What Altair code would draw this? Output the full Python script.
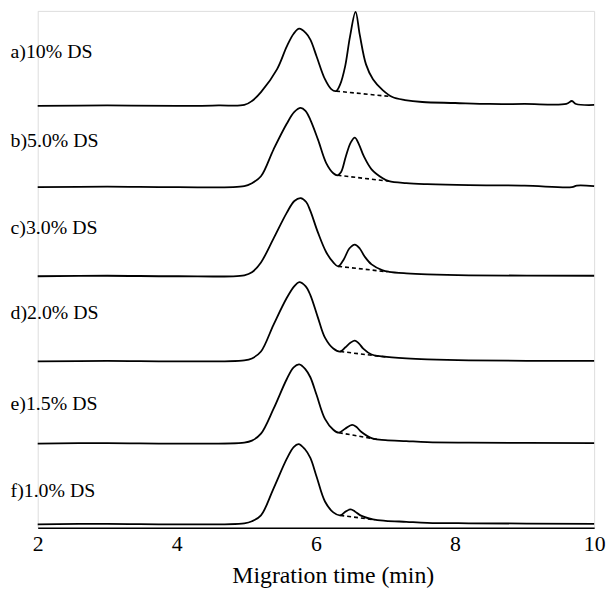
import altair as alt
import pandas as pd

# Trace labels and vertical offsets (signal units) of each electropherogram
trace_names = ["a)10% DS", "b)5.0% DS", "c)3.0% DS", "d)2.0% DS", "e)1.5% DS", "f)1.0% DS"]
trace_offset = [426, 344, 254, 168, 85, 3.5]
label_level = [480, 391, 303, 217, 125, 37]

# Migration time (min) and signal of each trace
a_t = [2.0, 3.0, 4.0, 4.6, 4.97, 5.08, 5.21, 5.44, 5.58, 5.68, 5.76, 5.85, 5.92, 6.01, 6.13, 6.22, 6.29, 6.35, 6.42, 6.49, 6.57, 6.63, 6.72, 6.82, 6.96, 7.10, 7.28, 7.53, 8.0, 8.5, 9.0, 9.6, 9.68, 9.74, 10.0]
a_h = [0, 0.5, 0, 0.5, 1, 5, 14, 37, 60, 73, 78, 74, 67, 50, 27, 17, 15, 22, 40, 70, 95, 72, 42, 27, 16, 9, 6, 4, 3, 2, 2, 2, 5, 2, 1]

b_t = [2.0, 3.0, 4.0, 4.97, 5.08, 5.21, 5.39, 5.58, 5.69, 5.78, 5.85, 5.92, 6.03, 6.15, 6.25, 6.31, 6.36, 6.43, 6.50, 6.56, 6.62, 6.69, 6.80, 6.96, 7.05, 7.3, 7.6, 8.2, 9.0, 9.68, 9.75, 10.0]
b_h = [0, 0.5, 0, 1, 4, 11, 38, 64, 76, 80, 77, 68, 48, 24, 14, 12, 15, 31, 45, 50, 43, 31, 18, 9, 6, 4, 3, 2, 1.5, 0, 1.5, 1]

c_t = [2.0, 3.0, 4.0, 4.97, 5.08, 5.21, 5.39, 5.58, 5.69, 5.78, 5.86, 5.92, 6.03, 6.15, 6.25, 6.32, 6.40, 6.48, 6.56, 6.63, 6.70, 6.80, 6.96, 7.05, 7.3, 7.6, 8.2, 10.0]
c_h = [0, 0.5, 0, 1, 4, 14, 38, 64, 76, 79, 75, 66, 44, 24, 14, 10, 17, 28, 32, 28, 20, 12, 6, 4.5, 3, 2, 1, 0.5]

d_t = [2.0, 3.0, 4.0, 4.97, 5.08, 5.21, 5.39, 5.58, 5.69, 5.76, 5.85, 5.92, 6.03, 6.13, 6.25, 6.35, 6.42, 6.50, 6.56, 6.62, 6.68, 6.80, 6.96, 7.3, 7.6, 8.2, 10.0]
d_h = [0, 0.5, 0, 1, 3, 10, 37, 64, 76, 80, 76, 67, 44, 24, 13, 10, 14, 19, 21, 18, 13, 7, 5, 3, 2, 1, 0.5]

e_t = [2.0, 3.0, 4.0, 4.97, 5.08, 5.21, 5.39, 5.58, 5.68, 5.76, 5.85, 5.92, 6.01, 6.13, 6.25, 6.33, 6.42, 6.52, 6.58, 6.65, 6.82, 7.0, 7.3, 7.6, 8.2, 10.0]
e_h = [0, 0.5, 0, 1, 3, 10, 35, 65, 77, 80, 75, 67, 49, 25, 14, 11, 15, 19, 17, 12, 5, 3.5, 2.5, 1.5, 1, 0.5]

f_t = [2.0, 3.0, 4.0, 4.97, 5.08, 5.21, 5.39, 5.58, 5.68, 5.75, 5.84, 5.92, 6.01, 6.13, 6.25, 6.35, 6.43, 6.50, 6.56, 6.64, 6.82, 7.0, 7.3, 7.6, 8.2, 10.0]
f_h = [0, 0.5, 0, 1, 3, 9, 36, 66, 78, 81, 76, 67, 48, 23, 12, 9, 13, 15, 13, 9, 5, 3.5, 2.5, 1.5, 1, 0.5]

# Dashed baselines drawn under the second peak (start/end time and signal)
dash_t0 = [6.29, 6.31, 6.32, 6.35, 6.33, 6.35]
dash_h0 = [15, 12, 10, 10, 11, 9]
dash_t1 = [7.08, 7.05, 7.03, 7.0, 6.9, 6.85]
dash_h1 = [9.5, 6, 4.5, 4.5, 4, 4.5]

x_ticks = [2, 4, 6, 8, 10]
label_time = 1.61

series_t = [a_t, b_t, c_t, d_t, e_t, f_t]
series_h = [a_h, b_h, c_h, d_h, e_h, f_h]

rows = []
for name, off, ts, hs in zip(trace_names, trace_offset, series_t, series_h):
    for t, h in zip(ts, hs):
        rows.append({"trace": name, "t": t, "y": off + h})
df = pd.DataFrame(rows)

drows = []
for name, off, t0, h0, t1, h1 in zip(trace_names, trace_offset, dash_t0, dash_h0, dash_t1, dash_h1):
    drows.append({"trace": name, "t": t0, "y": off + h0})
    drows.append({"trace": name, "t": t1, "y": off + h1})
ddf = pd.DataFrame(drows)

ldf = pd.DataFrame({"label": trace_names, "t": [label_time] * 6, "y": label_level})

FONT = "Liberation Serif, Times New Roman, Tinos, DejaVu Serif, serif"

xs = alt.Scale(domain=[2, 10], nice=False, zero=False)
ys = alt.Scale(domain=[0, 522], nice=False, zero=False)

x_axis = alt.Axis(values=x_ticks, format="d", grid=False, ticks=False, domainColor="black",
                  domainWidth=1.5, labelFont=FONT, labelFontSize=22, labelColor="black",
                  labelPadding=6, labelFlush=False, title="Migration time (min)", titleFont=FONT,
                  titleFontSize=24, titleFontWeight="normal", titleColor="black", titlePadding=9,
                  titleAlign="center", titleX=298)

lines = alt.Chart(df).mark_line(color="black", strokeWidth=1.8, interpolate="catmull-rom").encode(
    x=alt.X("t:Q", scale=xs, axis=x_axis),
    y=alt.Y("y:Q", scale=ys, axis=None),
    detail="trace:N",
    order="t:Q",
)

dashes = alt.Chart(ddf).mark_line(color="black", strokeWidth=1.6, strokeDash=[4, 3]).encode(
    x=alt.X("t:Q", scale=xs),
    y=alt.Y("y:Q", scale=ys),
    detail="trace:N",
)

labels = alt.Chart(ldf).mark_text(align="left", baseline="middle", font=FONT, fontSize=20,
                                   color="black").encode(
    x=alt.X("t:Q", scale=xs),
    y=alt.Y("y:Q", scale=ys),
    text="label:N",
)

chart = alt.layer(lines, dashes, labels).properties(
    width=562, height=522,
    autosize=alt.AutoSizeParams(type="none"),
    padding={"left": 30, "top": 0, "right": 14, "bottom": 66},
).configure_view(stroke=None).configure(background="white")

chart.save("out.html", embed_options={"renderer": "svg", "actions": False})
